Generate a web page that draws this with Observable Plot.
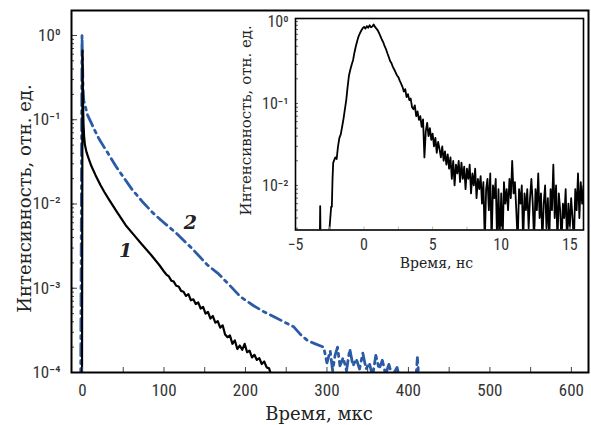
<!DOCTYPE html>
<html><head><meta charset="utf-8">
<script src="https://cdn.jsdelivr.net/npm/d3@7"></script>
<script src="https://cdn.jsdelivr.net/npm/@observablehq/plot@0.6"></script>
<style>
body{margin:0;background:#fff}
#chart{position:relative;width:591px;height:425px;background:#fff}
#inset{position:absolute;left:230px;top:12px}
</style></head><body><div id="chart"><div id="main"></div><div id="inset"></div></div>
<script>
// ---- main plot data (time, μs ; intensity, rel. units) ----
const curve1Time = [-0.6,0,0.3,0.7,1.2,2,3,5,7.8,11,16,22,27,32,42,53,63,73,84,94,
  100,103,106,109,112,115,118,121,124,127,130,133,136,139,142,145,148,151,154,157,160,163,166,169,172,175,178,181,184,187,190,193,196,199,202,205,208,211,214,217,220,223,226,229,232];
const curve1Value = [8e-5,0.66,0.3,0.15,0.09,0.062,0.05,0.041,0.034,0.028,0.022,0.0168,0.0138,0.0115,0.0081,0.0056,0.0043,0.0033,0.0025,0.0019,
  1.58e-3,1.45e-3,1.38e-3,1.23e-3,1.2e-3,1.07e-3,1.05e-3,9.3e-4,9.1e-4,8.1e-4,8.5e-4,7.2e-4,7.4e-4,6.5e-4,6.8e-4,5.75e-4,6.0e-4,5.0e-4,5.25e-4,4.37e-4,4.68e-4,3.9e-4,4.07e-4,3.4e-4,3.63e-4,2.82e-4,2.63e-4,2.75e-4,2.19e-4,2.4e-4,1.9e-4,2.09e-4,1.86e-4,2.19e-4,1.74e-4,1.82e-4,1.51e-4,1.62e-4,1.41e-4,1.48e-4,1.26e-4,1.35e-4,1.15e-4,1.12e-4,8.9e-5];

const curve2Time = [-2.2,-0.6,0,0.6,1.5,3,6,10,15,20,25,32,41,50,61,73,86,100,114,134,153,167,180,194,210,222,235,247,259,268,276,285,296,
  300,304,307,310,313,316,320,324,328,332,336,340,344,348,352,356,360,364,368,372,376,380,386,390,409,411,413];
const curve2Value = [8e-5,1.0,0.5,0.25,0.17,0.15,0.115,0.095,0.075,0.06,0.05,0.039,0.028,0.021,0.0148,0.0108,0.0079,0.006,0.0046,0.003,0.0019,0.00148,0.0011,0.00079,0.00062,0.00053,0.00046,0.0004,0.00035,0.00028,0.00024,0.00022,0.0002,
  1.3e-4,1.8e-4,1.05e-4,1.6e-4,2.0e-4,1.2e-4,1.5e-4,1.05e-4,1.9e-4,1.2e-4,1.45e-4,1.1e-4,1.7e-4,1.1e-4,1.3e-4,9e-5,1.6e-4,1.1e-4,1.4e-4,9.5e-5,1.25e-4,9e-5,1.15e-4,8e-5,8e-5,1.5e-4,8e-5];

const curveLabels = ["1", "2"];
const curveLabelTime = [53, 132.5];
const curveLabelValue = [0.0028, 0.0059];

const mainXTicks = [0,100,200,300,400,500,600];
const mainXMinorTicks = [0,50,100,150,200,250,300,350,400,450,500,550,600];
const mainYTicks = [1,0.1,0.01,0.001,0.0001];
const mainXTitle = "Время, мкс";
const mainYTitle = "Интенсивность, отн. ед.";

// ---- inset data (time, ns ; intensity, rel. units) ----
const insetTime = [-3.5,-3.23,-3.2,-3.17,-2.6,-2.4,-2.35,-2.3,-2.25,-2.1,
 -2.0,-1.9,-1.8,-1.7,-1.6,-1.5,-1.4,-1.3,-1.2,-1.1,-1.0,-0.9,-0.8,-0.7,-0.6,-0.5,-0.4,-0.3,-0.2,-0.1,
 0.0,0.1,0.2,0.3,0.4,0.5,0.6,0.7,0.8,0.9,1.0,1.1,1.2,1.3,1.4,1.5,1.6,1.7,1.8,1.9,
 2.0,2.1,2.2,2.3,2.4,2.5,2.6,2.7,2.8,2.9,3.0,3.1,3.2,3.3,3.4,3.5,3.6,3.7,3.8,3.9,
 4.0,4.1,4.2,4.3,4.4,4.5,4.6,4.7,4.8,4.9,5.0,5.1,5.2,5.3,5.4,5.5,5.6,5.7,5.8,5.9,
 6.0,6.1,6.2,6.3,6.4,6.5,6.6,6.7,6.8,6.9,7.0,7.1,7.2,7.3,7.4,7.5,7.6,7.7,7.8,7.9,
 8.0,8.1,8.2,8.3,8.4,8.5,8.6,8.7,8.8,8.9,9.0,9.1,9.2,9.3,9.4,9.5,9.6,9.7,9.8,9.9,
 10.0,10.1,10.2,10.3,10.4,10.5,10.6,10.7,10.8,10.9,11.0,11.1,11.2,11.3,11.4,11.5,11.6,11.7,11.8,11.9,
 12.0,12.1,12.2,12.3,12.4,12.5,12.6,12.7,12.8,12.9,13.0,13.1,13.2,13.3,13.4,13.5,13.6,13.7,13.8,13.9,
 14.0,14.1,14.2,14.3,14.4,14.5,14.6,14.7,14.8,14.9,15.0,15.1,15.2,15.3,15.4,15.5,15.6,15.7,15.8,15.9,16.0];
const insetValue = [0.002,0.002,0.0056,0.002,0.002,0.0055,0.0055,0.012,0.019,0.022,
 0.021,0.03,0.038,0.042,0.052,0.065,0.085,0.11,0.16,0.22,0.26,0.3,0.34,0.42,0.5,0.58,0.66,0.72,0.78,0.83,
 0.86,0.82,0.88,0.84,0.9,0.85,0.87,0.92,0.86,0.82,0.78,0.72,0.66,0.6,0.56,0.5,0.46,0.41,0.37,0.33,
 0.31,0.28,0.26,0.24,0.22,0.21,0.19,0.175,0.16,0.14,0.15,0.12,0.13,0.11,0.115,0.09,0.085,0.095,0.07,0.08,
 0.063,0.07,0.052,0.064,0.022,0.046,0.058,0.04,0.05,0.036,0.043,0.03,0.038,0.025,0.034,0.028,0.022,0.03,0.02,0.026,
 0.018,0.024,0.016,0.022,0.012,0.02,0.01,0.018,0.014,0.02,0.011,0.019,0.012,0.017,0.009,0.016,0.012,0.018,0.008,0.014,
 0.01,0.016,0.007,0.012,0.009,0.013,0.006,0.011,0.002,0.009,0.012,0.005,0.014,0.002,0.01,0.007,0.012,0.002,0.009,0.002,
 0.008,0.002,0.011,0.006,0.009,0.005,0.012,0.007,0.02,0.008,0.011,0.005,0.002,0.009,0.006,0.01,0.002,0.008,0.005,0.009,
 0.003,0.007,0.012,0.006,0.002,0.009,0.005,0.014,0.004,0.008,0.002,0.006,0.01,0.003,0.007,0.002,0.009,0.005,0.018,0.004,
 0.01,0.002,0.008,0.005,0.002,0.006,0.004,0.009,0.002,0.006,0.003,0.007,0.004,0.002,0.009,0.005,0.014,0.004,0.011,0.006,0.01];

const insetXTicks = [-5,0,5,10,15];
const insetXMinorTicks = [-5,-2.5,0,2.5,5,7.5,10,12.5,15];
const insetYTicks = [1,0.1,0.01];
const insetXTitle = "Время, нс";
const insetYTitle = "Интенсивность, отн. ед.";

// ---- build tables ----
const curve1 = curve1Time.map((t, i) => ({t, v: curve1Value[i]}));
const curve2 = curve2Time.map((t, i) => ({t, v: curve2Value[i]}));
const labels = curveLabels.map((s, i) => ({s, t: curveLabelTime[i], v: curveLabelValue[i]}));
const inset = insetTime.map((t, i) => ({t, v: insetValue[i]}));

const BLUE = "#2b5aa6";
const TICKFONT = "'Liberation Sans Narrow', 'Roboto Condensed', Roboto, sans-serif";
const SERIF = "'DejaVu Serif', serif";
const SUP = {"-": "⁻", "0": "⁰", "1": "¹", "2": "²", "3": "³", "4": "⁴"};
const pow10 = d => "10" + String(Math.round(Math.log10(d))).split("").map(c => SUP[c]).join("");
const blank = () => "";

const main = Plot.plot({
  width: 591, height: 425,
  marginLeft: 71, marginRight: 3, marginTop: 10, marginBottom: 53,
  style: {background: "transparent", overflow: "visible"},
  x: {domain: [-13.5, 621]},
  y: {type: "log", domain: [1e-4, 1.98]},
  marks: [
    Plot.line(curve2, {x: "t", y: "v", stroke: BLUE, strokeWidth: 2.8, strokeDasharray: "12,5,3,5", clip: true}),
    Plot.line(curve1, {x: "t", y: "v", stroke: "black", strokeWidth: 2.2, clip: true}),
    Plot.text(labels, {x: "t", y: "v", text: "s", fontFamily: SERIF, fontStyle: "italic", fontWeight: "bold", fontSize: 19, fill: "#222"}),
    Plot.axisX({ticks: mainXMinorTicks, tickSize: -5, tickFormat: blank, label: null, stroke: "#444"}),
    Plot.axisX({ticks: mainXTicks, tickSize: 0, tickPadding: 11, tickFormat: d => String(d), label: null, fontFamily: TICKFONT, fontSize: 17, fill: "#333"}),
    Plot.axisY({tickSize: -3, tickFormat: blank, label: null, stroke: "#444"}),
    Plot.axisY({ticks: mainYTicks, tickSize: -6, tickFormat: blank, label: null, stroke: "#444"}),
    Plot.axisY({ticks: mainYTicks, tickSize: 0, tickPadding: 11, tickFormat: pow10, label: null, fontFamily: TICKFONT, fontSize: 17, fill: "#333"}),
    Plot.frame({stroke: "black", strokeWidth: 2}),
    Plot.text([mainXTitle], {text: d => d, frameAnchor: "bottom", dy: 42, dx: -11, textAnchor: "middle", lineAnchor: "middle", fontFamily: SERIF, fontSize: 18, fill: "#222"}),
    Plot.text([mainYTitle], {text: d => d, frameAnchor: "left", rotate: -90, dx: -46, dy: 7, textAnchor: "middle", lineAnchor: "middle", fontFamily: SERIF, fontSize: 18, fill: "#222"})
  ]
});
document.getElementById("main").appendChild(main);

const insetPlot = Plot.plot({
  width: 356, height: 262,
  marginLeft: 65, marginRight: 3, marginTop: 6, marginBottom: 44.5,
  style: {background: "transparent", overflow: "visible"},
  x: {domain: [-5, 16]},
  y: {type: "log", domain: [0.00286, 1.09]},
  marks: [
    Plot.line(inset, {x: "t", y: "v", stroke: "black", strokeWidth: 1.8, clip: true}),
    Plot.axisX({ticks: insetXMinorTicks, tickSize: -3, tickFormat: blank, label: null, stroke: "#bbb"}),
    Plot.axisX({ticks: insetXTicks, tickSize: 0, tickPadding: 8.5, tickFormat: d => d < 0 ? "−" + Math.abs(d) : String(d), label: null, fontFamily: TICKFONT, fontSize: 16, fill: "#333"}),
    Plot.axisY({tickSize: -3, tickFormat: blank, label: null, stroke: "#666"}),
    Plot.axisY({ticks: insetYTicks, tickSize: 0, tickPadding: 7, tickFormat: pow10, label: null, fontFamily: TICKFONT, fontSize: 16, fill: "#333"}),
    Plot.frame({stroke: "black", strokeWidth: 1.6}),
    Plot.text([insetXTitle], {text: d => d, frameAnchor: "bottom", dy: 33.5, dx: -3, textAnchor: "middle", lineAnchor: "middle", fontFamily: SERIF, fontSize: 14, fill: "#222"}),
    Plot.text([insetYTitle], {text: d => d, frameAnchor: "left", rotate: -90, dx: -49, dy: -4, textAnchor: "middle", lineAnchor: "middle", fontFamily: SERIF, fontSize: 15, fill: "#222"})
  ]
});
document.getElementById("inset").appendChild(insetPlot);
</script>
</body></html>
